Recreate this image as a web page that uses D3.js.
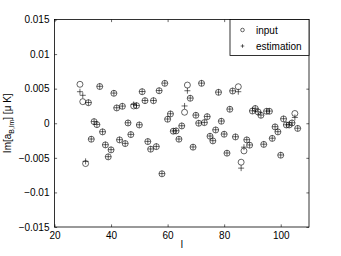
<!DOCTYPE html>
<html>
<head>
<meta charset="utf-8">
<script src="https://cdn.jsdelivr.net/npm/d3@7"></script>
<style>
  body { margin: 0; background: #fff; }
  text { font-family: "Liberation Sans", Arial, sans-serif; }
</style>
</head>
<body>
<div id="chart"></div>
<script>
const ells = [29, 30, 31, 32, 33, 34, 35, 36, 37, 38, 39, 40, 41, 42, 43, 44, 45, 46, 47, 48,
  49, 50, 51, 52, 53, 54, 55, 56, 57, 58, 59, 60, 61, 62, 63, 64, 65, 66, 67, 68,
  69, 70, 71, 72, 73, 74, 75, 76, 77, 78, 79, 80, 81, 82, 83, 84, 85, 86, 87, 88,
  89, 90, 91, 92, 93, 94, 95, 96, 97, 98, 99, 100, 101, 102, 103, 104, 105, 106];

const inputVals = [0.00563, 0.00312, -0.00583, 0.00297, -0.00231, 0.00023, -0.0002, 0.00531, -0.00125, -0.00313,
  -0.00486, -0.00385, 0.00433, 0.00221, -0.00241, 0.00245, -0.00294, 0.00004, -0.00164, 0.0025,
  0.00254, -0.00025, 0.00456, 0.00326, -0.00265, -0.00375, 0.00326, -0.00338, 0.0047, -0.00731,
  0.00577, 0.00058, 0.00134, -0.00115, -0.00111, -0.00231, -0.00039, 0.00159, 0.00552, 0.00361,
  -0.00346, 0.00115, 0.0, 0.00577, 0.00009, 0.00095, -0.00188, -0.00255, -0.00097, 0.00447,
  0.00029, -0.00159, -0.00433, 0.00202, 0.00466, -0.00198, 0.00528, -0.00563, -0.004, -0.00241,
  -0.00317, 0.00177, 0.00213, 0.00163, 0.00115, -0.00306, 0.00173, 0.00173, -0.00219, -0.00053,
  -0.00125, -0.00462, 0.00062, -0.00025, -0.00025, 0.00004, 0.00141, -0.00075];

const estVals = [0.00456, 0.00404, -0.00551, 0.00300, -0.00228, 0.00026, -0.00017, 0.00534, -0.00122, -0.0031,
  -0.00483, -0.00382, 0.00436, 0.00224, -0.00238, 0.00248, -0.00291, 0.00007, -0.00161, 0.00271,
  0.00257, -0.00022, 0.00459, 0.00329, -0.00262, -0.00372, 0.00329, -0.00335, 0.00473, -0.00728,
  0.0058, 0.00061, 0.00137, -0.00112, -0.00108, -0.00228, -0.00036, 0.0025, 0.0047, 0.00364,
  -0.00343, 0.00118, 0.00003, 0.0058, 0.00012, 0.00098, -0.00185, -0.00252, -0.00094, 0.0045,
  0.00032, -0.00156, -0.0043, 0.00205, 0.00469, -0.00195, 0.00456, -0.00649, -0.00346, -0.00238,
  -0.00314, 0.0018, 0.00216, 0.00166, 0.00118, -0.00303, 0.00176, 0.00176, -0.00216, -0.0005,
  -0.00122, -0.00459, 0.00065, -0.00022, -0.00022, 0.00007, 0.00084, -0.00072];

const xTicks = [20, 40, 60, 80, 100];
const yTicks = [-0.015, -0.01, -0.005, 0, 0.005, 0.01, 0.015];
const yTickLabels = ["\u22120.015", "\u22120.01", "\u22120.005", "0", "0.005", "0.01", "0.015"];

const width = 341, height = 256;
const plotLeft = 54.5, plotRight = 309, plotTop = 19.5, plotBottom = 227;

const svg = d3.select("#chart").append("svg")
  .attr("width", width)
  .attr("height", height)
  .attr("viewBox", `0 0 ${width} ${height}`);

const x = d3.scaleLinear().domain([20, 110]).range([plotLeft, plotRight]);
const y = d3.scaleLinear().domain([-0.015, 0.015]).range([plotBottom, plotTop]);

// axes box with inward ticks on all sides
svg.append("g")
  .attr("transform", `translate(0,${plotBottom})`)
  .call(d3.axisBottom(x).tickValues(xTicks).tickSize(-2.6).tickPadding(5))
  .call(g => g.select(".domain").remove())
  .call(g => g.selectAll("text").attr("font-size", 10).attr("fill", "#000"));

svg.append("g")
  .attr("transform", `translate(0,${plotTop})`)
  .call(d3.axisTop(x).tickValues(xTicks).tickSize(-2.6).tickFormat(""))
  .call(g => g.select(".domain").remove());

svg.append("g")
  .attr("transform", `translate(${plotLeft},0)`)
  .call(d3.axisLeft(y).tickValues(yTicks).tickSize(-2.6).tickPadding(5)
    .tickFormat((d, i) => yTickLabels[i]))
  .call(g => g.select(".domain").remove())
  .call(g => g.selectAll("text").attr("font-size", 10).attr("fill", "#000"));

svg.append("g")
  .attr("transform", `translate(${plotRight},0)`)
  .call(d3.axisRight(y).tickValues(yTicks).tickSize(-2.6).tickFormat(""))
  .call(g => g.select(".domain").remove());

svg.selectAll(".tick line").attr("stroke", "#000").attr("stroke-width", 0.6);

svg.append("rect")
  .attr("x", plotLeft).attr("y", plotTop)
  .attr("width", plotRight - plotLeft).attr("height", plotBottom - plotTop)
  .attr("fill", "none").attr("stroke", "#000").attr("stroke-width", 0.8);

// input: circles
svg.append("g").selectAll("circle")
  .data(ells.map((l, i) => [l, inputVals[i]]))
  .join("circle")
  .attr("cx", d => x(d[0]))
  .attr("cy", d => y(d[1]))
  .attr("r", 3)
  .attr("fill", "none")
  .attr("stroke", "#000")
  .attr("stroke-width", 0.6);

// estimation: plus signs
svg.append("g").selectAll("path")
  .data(ells.map((l, i) => [l, estVals[i]]))
  .join("path")
  .attr("d", d => {
    const cx = x(d[0]), cy = y(d[1]), s = 3;
    return `M${cx - s},${cy}H${cx + s}M${cx},${cy - s}V${cy + s}`;
  })
  .attr("fill", "none")
  .attr("stroke", "#000")
  .attr("stroke-width", 0.6);

// legend
const lg = svg.append("g");
lg.append("rect")
  .attr("x", 230).attr("y", plotTop)
  .attr("width", plotRight - 230).attr("height", 36)
  .attr("fill", "#fff").attr("stroke", "#000").attr("stroke-width", 0.8);
lg.append("circle")
  .attr("cx", 242.5).attr("cy", 30).attr("r", 1.8)
  .attr("fill", "none").attr("stroke", "#000").attr("stroke-width", 0.6);
lg.append("path")
  .attr("d", "M240.7,46H244.3M242.5,44.2V47.8")
  .attr("stroke", "#000").attr("stroke-width", 0.6);
lg.append("text").attr("x", 256).attr("y", 33.5).attr("font-size", 10).text("input");
lg.append("text").attr("x", 256).attr("y", 49.5).attr("font-size", 10).text("estimation");

// axis labels
svg.append("text")
  .attr("x", (plotLeft + plotRight) / 2).attr("y", 248)
  .attr("text-anchor", "middle").attr("font-size", 10)
  .text("l");

const yl = svg.append("text")
  .attr("transform", `translate(11,${(plotTop + plotBottom) / 2}) rotate(-90)`)
  .attr("text-anchor", "middle").attr("font-size", 10);
yl.append("tspan").text("Im[a");
yl.append("tspan").attr("font-size", 7).attr("dy", 2.5).text("B,lm");
yl.append("tspan").attr("dy", -2.5).text("] [\u03bc K]");
</script>
</body>
</html>
